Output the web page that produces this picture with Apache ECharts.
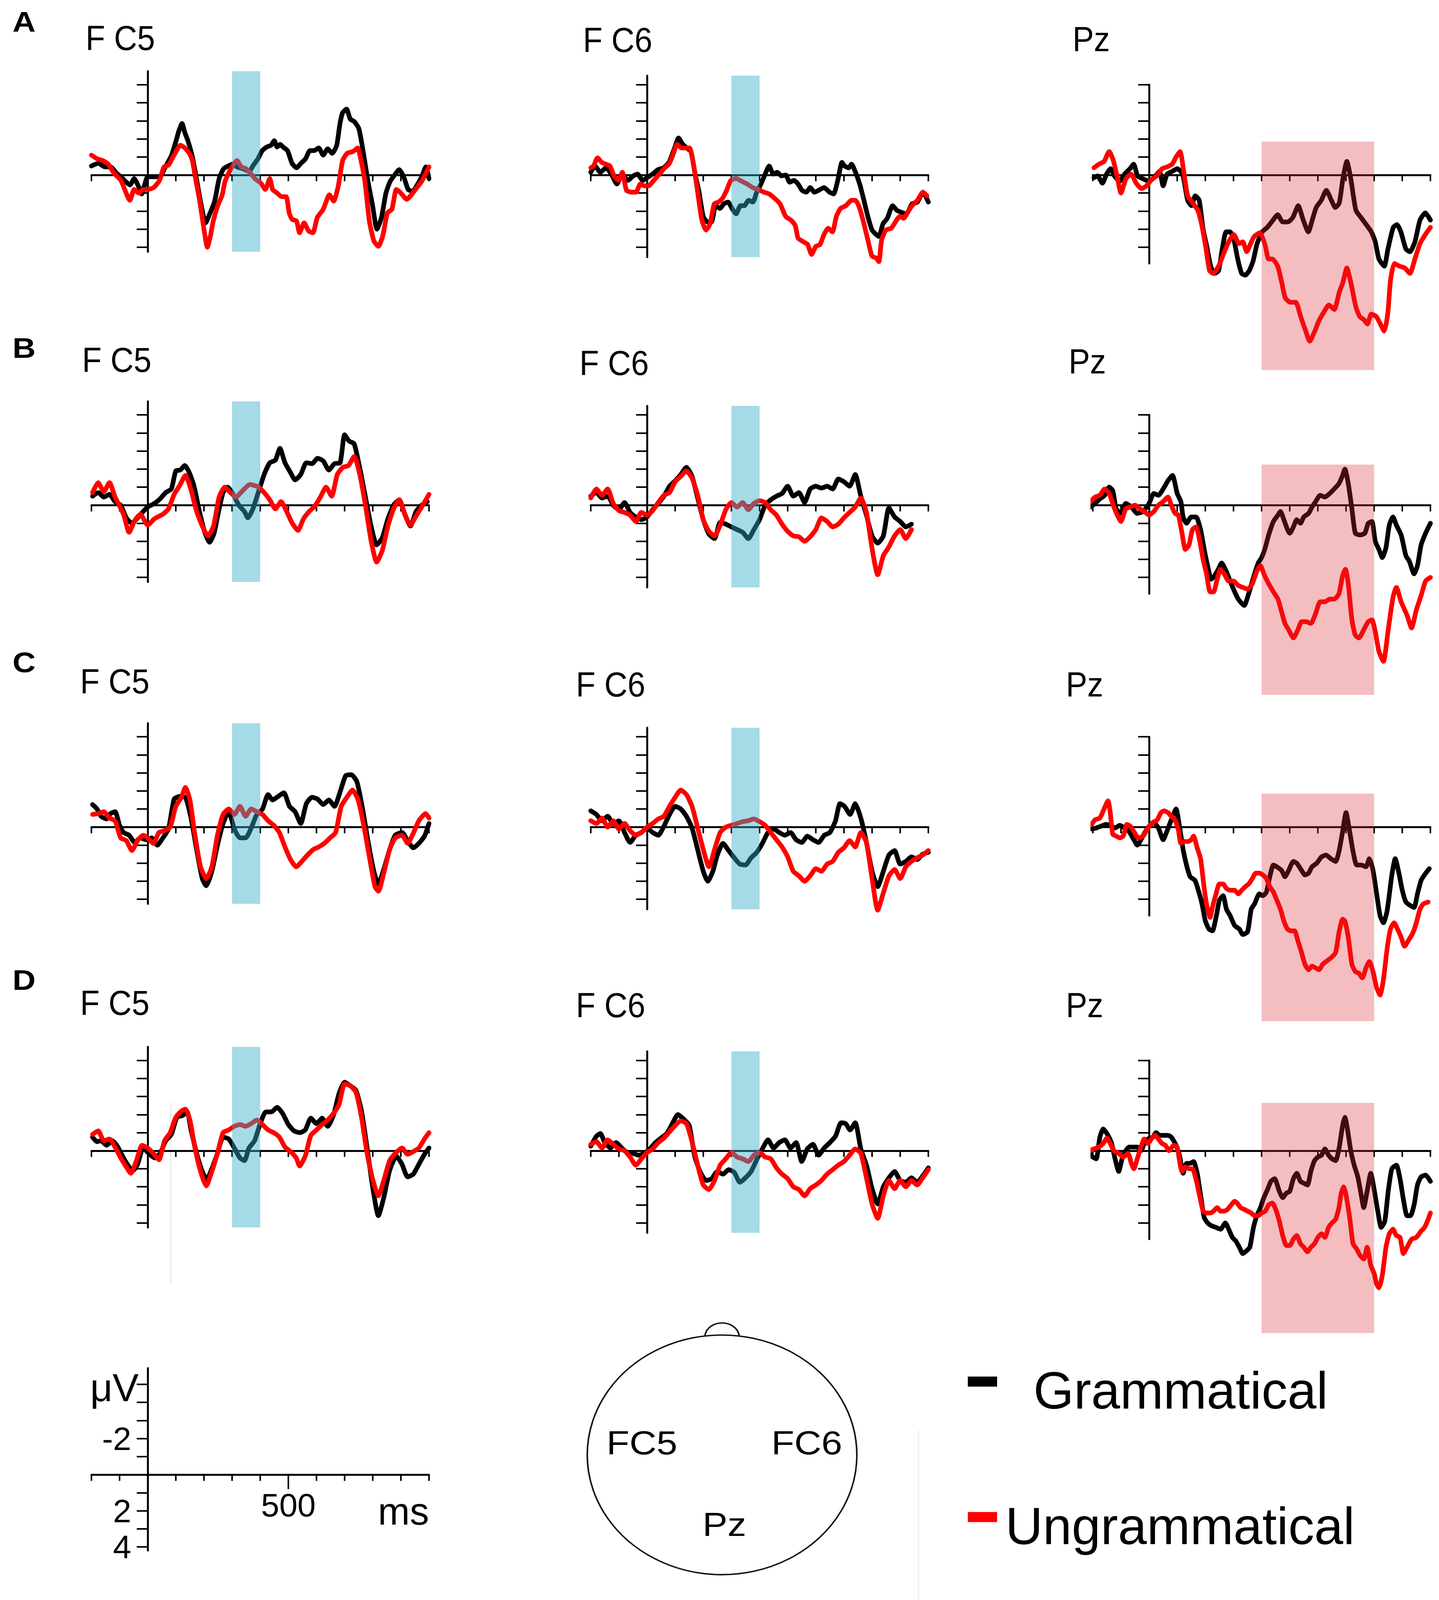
<!DOCTYPE html>
<html>
<head>
<meta charset="utf-8">
<script src="https://cdn.jsdelivr.net/npm/echarts@6/dist/echarts.min.js"></script>
<style>
html,body{margin:0;padding:0;background:#ffffff;overflow:hidden;}
#chart{width:3683px;height:4608px;}
</style>
</head>
<body>
<div id="chart"></div>
<script>
// ===================== DATA =====================
const rows = ['A', 'B', 'C', 'D'];
const electrodes = ['F C5', 'F C6', 'Pz'];
const headLabels = ['FC5', 'FC6', 'Pz'];
const conditions = ['Grammatical', 'Ungrammatical'];
const yTicks = [-5, -4, -3, -2, -1, 1, 2, 3, 4];
const scaleYLabelValues = [-5, -2, 2, 4];
const scaleXLabelValues = [500];
const blueWindow = [300, 400];
const pinkWindow = [400, 800];
const pinkRange = [[-1.85, 10.8], [-2.25, 10.5], [-1.85, 10.75], [-2.65, 10.1]];
const scaleTick500 = [[500, 0], [500, 0.8]];

// Row A
const A_FC5_gram = [[-200,-0.5],[-175,-0.65],[-153,-0.45],[-132,-0.45],[-111,-0.1],[-95,0.1],[-79,0.35],[-63,0.55],[-48,0.2],[-32,0.65],[-21,1.05],[-11,0.55],[0,0.1],[21,0.1],[42,0.1],[63,-0.45],[85,-1.1],[101,-1.9],[111,-2.45],[122,-2.85],[132,-2.35],[143,-1.9],[159,-1.0],[175,0.35],[190,1.65],[206,2.65],[222,2.1],[238,1.45],[254,0.2],[270,-0.35],[286,-0.5],[302,-0.6],[317,-0.45],[339,-0.35],[360,-0.2],[376,-0.55],[392,-0.9],[407,-1.35],[423,-1.55],[439,-1.65],[450,-1.9],[460,-1.55],[471,-1.7],[481,-1.55],[497,-1.35],[513,-0.65],[529,-0.4],[545,-0.65],[561,-0.9],[577,-1.35],[592,-1.35],[608,-1.5],[624,-1.1],[640,-1.45],[656,-1.2],[672,-1.65],[683,-2.8],[693,-3.45],[707,-3.65],[720,-3.1],[735,-2.95],[751,-2.55],[767,-1.2],[783,0.35],[799,1.65],[815,3.0],[831,2.35],[847,1.0],[862,0.35],[878,0],[894,-0.3],[910,0.1],[926,0.8],[942,0.9],[958,0.55],[974,0.1],[989,-0.45],[1000,0.2]];
const A_FC5_ungram = [[-200,-1.1],[-180,-0.9],[-160,-0.8],[-140,-0.6],[-120,-0.1],[-95,0.3],[-63,1.4],[-48,0.8],[-32,1.0],[-16,0.8],[0,0.8],[21,0.7],[42,0.3],[58,-0.45],[74,-0.55],[90,-1.0],[106,-1.45],[116,-1.65],[132,-1.5],[148,-1.2],[159,-0.8],[169,0.1],[185,1.45],[201,3.1],[212,4.0],[222,3.45],[233,2.55],[249,1.7],[265,1.1],[275,0.35],[296,-0.35],[317,-0.8],[333,-0.45],[349,-0.35],[365,-0.1],[381,0.2],[402,0.45],[418,0.8],[434,0.2],[444,0.8],[460,1.0],[476,1.2],[492,1.2],[503,2.1],[513,2.45],[529,2.55],[540,3.2],[556,2.65],[572,3.1],[587,3.2],[603,2.35],[624,1.9],[646,1.1],[661,1.45],[677,0.65],[693,-0.8],[709,-1.2],[730,-1.3],[746,-1.5],[757,-0.9],[772,0.35],[788,2.55],[804,3.65],[820,3.95],[836,3.35],[852,2.1],[868,1.9],[884,0.8],[900,1.0],[921,1.35],[937,1.1],[952,0.8],[974,0.35],[989,-0.1],[1000,-0.45]];
const A_FC6_gram = [[-200,-0.15],[-185,-0.5],[-166,-0.15],[-146,-0.4],[-127,-0.05],[-107,0.5],[-88,-0.05],[-68,0.3],[-49,0.05],[-34,-0.05],[-15,0.3],[0,0.15],[20,-0.05],[39,-0.3],[59,-0.4],[78,-0.7],[98,-1.5],[112,-2.05],[127,-1.7],[141,-1.5],[156,-1.3],[171,-0.05],[185,0.95],[200,2.3],[215,2.6],[229,2.6],[244,1.7],[259,1.85],[273,1.6],[288,1.5],[302,1.85],[317,2.15],[332,1.7],[346,1.7],[361,1.4],[376,1.5],[390,0.95],[405,0.5],[420,-0.05],[434,-0.5],[449,-0.05],[463,-0.15],[478,0.05],[493,0],[507,0.4],[522,0.3],[537,0.5],[551,0.85],[566,0.95],[580,0.7],[595,0.95],[610,0.85],[629,0.7],[649,0.95],[663,1.05],[678,0.3],[693,-0.7],[702,-0.5],[717,-0.4],[727,-0.6],[741,-0.15],[756,0.5],[771,1.4],[785,2.3],[800,3.05],[815,3.3],[824,3.4],[839,2.7],[854,2.4],[873,1.7],[888,1.95],[902,2.05],[922,2.15],[942,1.6],[961,1.5],[981,0.95],[1000,1.5]];
const A_FC6_ungram = [[-200,-0.4],[-190,-0.5],[-176,-0.95],[-161,-0.7],[-146,-0.6],[-132,-0.5],[-117,0.05],[-102,0.3],[-88,-0.15],[-73,0.85],[-54,0.95],[-39,0.95],[-24,0.5],[-10,0.6],[5,0.6],[24,0.3],[44,-0.05],[63,-0.4],[78,-0.6],[93,-1.15],[107,-1.7],[122,-1.5],[137,-1.5],[151,-1.5],[166,-0.5],[180,0.95],[195,2.5],[210,3.05],[224,2.7],[239,1.6],[254,1.5],[268,1.3],[283,0.85],[298,0.3],[317,0.2],[337,0.35],[356,0.5],[376,0.7],[395,0.8],[415,0.95],[434,1.05],[454,1.3],[473,1.6],[493,2.3],[512,2.5],[527,2.8],[537,3.5],[556,3.7],[571,3.85],[585,4.4],[600,3.95],[615,3.85],[629,3.3],[644,2.95],[659,3.15],[673,2.3],[688,1.85],[707,1.7],[727,1.4],[741,1.4],[756,1.85],[771,2.7],[785,3.6],[800,4.5],[815,4.6],[824,4.8],[834,3.6],[849,3.05],[868,2.95],[883,2.6],[898,2.3],[912,2.4],[927,2.05],[942,1.7],[961,1.4],[981,0.95],[995,1.15]];
const A_Pz_gram = [[-196,0.15],[-183,0.05],[-166,0.45],[-151,-0.05],[-137,-0.35],[-123,0.05],[-105,0.35],[-87,-0.05],[-68,-0.35],[-55,-0.6],[-41,0.05],[-23,0.2],[0,0.35],[23,0.05],[37,-0.2],[50,0.6],[64,-0.05],[82,-0.2],[100,-0.35],[119,-0.05],[137,1.4],[151,1.7],[164,1.15],[178,1.4],[192,3.0],[205,3.95],[219,5.05],[233,5.45],[247,5.3],[260,4.1],[274,3.15],[288,3.15],[301,3.55],[315,4.65],[329,5.45],[342,5.55],[356,5.3],[370,4.75],[384,3.8],[402,3.15],[420,2.9],[438,2.55],[457,2.2],[475,2.6],[493,2.6],[511,2.35],[530,1.7],[548,2.5],[566,3.15],[580,2.5],[594,1.8],[612,1.4],[630,0.85],[648,1.4],[662,1.8],[676,1.55],[689,0.2],[703,-0.75],[717,0.2],[735,1.95],[753,2.35],[772,2.75],[790,3.15],[804,3.7],[817,4.65],[836,5.05],[849,4.1],[868,2.9],[881,2.75],[895,3.15],[913,4.1],[927,4.25],[945,3.7],[963,2.5],[982,2.1],[1000,2.5]];
const A_Pz_ungram = [[-196,-0.4],[-178,-0.6],[-160,-0.75],[-142,-1.3],[-128,-0.85],[-114,0.05],[-100,1.0],[-82,0.2],[-64,-0.05],[-46,0.45],[-27,0.75],[-9,0.6],[9,0.25],[27,0.05],[46,-0.35],[64,-0.45],[82,-0.6],[96,-1.0],[110,-1.3],[123,-0.2],[137,1.15],[155,1.55],[173,1.95],[187,2.75],[201,3.95],[215,5.3],[228,5.45],[247,5.05],[265,4.35],[283,3.7],[301,3.3],[320,3.8],[333,3.7],[347,4.25],[361,3.8],[374,3.4],[393,3.2],[411,3.8],[425,4.65],[438,4.65],[457,5.05],[470,5.85],[484,6.8],[502,7.05],[521,7.05],[539,7.85],[557,8.65],[571,9.2],[589,8.65],[603,8.1],[621,7.6],[639,7.2],[658,7.45],[676,6.5],[689,5.95],[703,5.15],[717,5.95],[735,7.3],[749,7.85],[763,8.0],[776,8.25],[790,7.7],[808,7.85],[822,8.25],[836,8.65],[849,7.6],[858,5.85],[872,4.9],[890,5.05],[909,5.15],[927,5.45],[945,4.65],[963,3.8],[982,3.3],[1000,2.9]];

// Row B
const B_FC5_gram = [[-196,-0.5],[-176,-0.7],[-156,-0.45],[-136,-0.6],[-116,-0.2],[-96,0],[-76,0.7],[-56,1.0],[-36,0.7],[-16,0.35],[0,0.1],[24,-0.1],[44,-0.35],[64,-0.7],[84,-0.9],[100,-1.9],[116,-1.95],[132,-2.2],[148,-1.8],[164,-1.1],[184,0.35],[204,1.55],[220,2.05],[236,1.55],[252,0.35],[268,-0.7],[284,-1.0],[304,-0.6],[324,0],[344,0.35],[356,0.7],[374,0.2],[394,-0.75],[414,-1.7],[434,-2.35],[454,-2.5],[470,-3.15],[488,-2.35],[508,-1.8],[524,-1.4],[544,-1.7],[564,-2.35],[584,-2.3],[604,-2.6],[624,-2.45],[644,-1.95],[664,-2.3],[684,-2.35],[700,-3.9],[716,-3.55],[734,-3.4],[754,-2.05],[774,-0.45],[794,1.15],[814,2.2],[834,1.8],[854,0.75],[874,0],[894,-0.3],[914,0.5],[934,1.15],[954,0.35],[974,0],[994,-0.2]];
const B_FC5_ungram = [[-196,-0.7],[-176,-1.25],[-156,-0.75],[-136,-1.25],[-116,-0.45],[-86,0.5],[-66,1.5],[-46,0.85],[-26,0.5],[0,1.1],[24,0.75],[54,0.5],[74,0.2],[94,-0.6],[114,-1.1],[134,-1.65],[154,-0.85],[174,0.35],[194,1.15],[214,1.7],[234,1.15],[254,-0.45],[274,-1.0],[294,-0.7],[314,-0.45],[334,-0.75],[364,-1.15],[394,-1.0],[414,-0.7],[434,-0.3],[454,0.2],[474,-0.2],[494,0.35],[514,1.0],[534,1.4],[554,0.75],[574,0.35],[594,0.05],[614,-0.45],[634,-1.0],[654,-0.5],[674,-1.7],[694,-2.1],[714,-2.2],[734,-2.7],[754,-1.7],[774,0],[794,1.95],[814,3.15],[834,2.5],[854,1.15],[874,0.2],[894,-0.3],[914,0.5],[934,1.1],[954,0.6],[974,0.1],[1000,-0.6]];
const B_FC6_gram = [[-200,-0.5],[-180,-0.7],[-160,-0.4],[-140,-0.5],[-120,0],[-100,0.25],[-80,-0.15],[-60,0.4],[-40,0.65],[-20,0.8],[0,0.65],[20,0.25],[40,-0.1],[60,-0.5],[80,-1.05],[100,-1.35],[120,-1.7],[140,-2.1],[160,-1.6],[180,-0.4],[200,0.8],[220,1.6],[240,1.85],[260,0.95],[280,1.05],[300,1.2],[320,1.35],[340,1.5],[360,1.85],[380,1.35],[400,0.8],[420,0],[440,-0.3],[460,-0.5],[480,-0.65],[500,-1.05],[520,-0.5],[540,-0.7],[560,-0.15],[580,-0.9],[600,-1.05],[620,-0.95],[640,-1.05],[660,-0.9],[680,-1.45],[700,-1.3],[720,-1.05],[740,-1.7],[760,-0.5],[780,0.55],[800,1.7],[820,2.1],[840,1.7],[860,0.15],[880,0.65],[900,0.9],[920,1.2],[940,1.05]];
const B_FC6_ungram = [[-200,-0.4],[-180,-0.9],[-160,-0.55],[-140,-0.9],[-120,-0.1],[-100,0.3],[-80,0.4],[-60,0.55],[-40,0.9],[-20,0.4],[0,0.55],[20,0.3],[40,-0.15],[60,-0.55],[80,-0.7],[100,-1.3],[120,-1.6],[140,-1.9],[160,-1.5],[180,-0.55],[200,0.8],[220,1.45],[240,1.7],[260,1.1],[280,0.25],[300,-0.15],[320,0.1],[340,-0.15],[360,0.25],[380,-0.1],[400,-0.25],[420,-0.15],[440,0.25],[460,0.55],[480,1.05],[500,1.45],[520,1.7],[540,1.75],[560,2.0],[580,1.75],[600,1.35],[620,0.7],[640,0.9],[660,1.2],[680,1.05],[700,0.7],[720,0.4],[740,0.1],[760,-0.4],[780,0.4],[800,2.4],[820,3.85],[840,2.8],[860,2.3],[880,1.7],[900,1.35],[920,1.85],[940,1.35]];
const B_Pz_gram = [[-208,0.1],[-192,-0.1],[-175,-0.35],[-158,-0.55],[-142,-1.0],[-129,-0.8],[-117,0.2],[-100,0.45],[-83,-0.1],[-63,0.1],[-42,0.45],[-21,0.35],[0,-0.1],[17,-0.65],[33,-0.55],[50,-0.9],[67,-1.35],[83,-1.65],[100,-0.65],[113,-0.2],[121,0.65],[133,1.0],[150,0.65],[167,0.65],[183,1.35],[196,2.45],[208,3.35],[221,4.1],[233,3.9],[246,3.55],[258,3.2],[271,3.55],[283,4.0],[300,4.65],[317,5.2],[338,5.55],[354,4.9],[371,4.0],[388,3.2],[400,2.9],[413,2.35],[425,1.65],[442,0.9],[458,0.55],[467,0.35],[479,0.8],[492,1.35],[500,1.55],[513,1.2],[525,0.8],[538,1.0],[550,0.65],[567,0.45],[579,0.1],[592,-0.2],[608,-0.55],[625,-0.45],[642,-0.65],[658,-0.9],[675,-1.2],[688,-1.65],[696,-2.0],[708,-1.2],[721,0.2],[733,1.55],[750,1.65],[767,1.55],[779,1.0],[792,0.9],[804,2.0],[817,2.45],[829,2.9],[842,2.35],[854,1.1],[867,0.65],[879,1.1],[896,1.65],[913,2.8],[925,3.1],[942,3.8],[954,3.35],[967,2.2],[983,1.55],[1000,1.0]];
const B_Pz_ungram = [[-208,-0.2],[-192,-0.45],[-175,-0.55],[-158,-0.9],[-142,-0.65],[-125,0.1],[-113,0.55],[-100,0.9],[-83,0.2],[-67,0.1],[-50,0],[-33,0.2],[-17,0.35],[0,0.55],[17,0.35],[33,0],[50,-0.2],[67,-0.45],[79,0],[92,0.45],[104,0.55],[117,1.55],[129,2.45],[142,2.2],[154,1.35],[167,1.2],[179,1.9],[192,3.0],[204,3.8],[217,4.8],[229,4.8],[242,4.1],[254,3.55],[267,3.8],[283,4.2],[300,4.2],[317,4.45],[333,4.55],[350,4.65],[367,4.35],[383,3.65],[396,3.35],[408,3.8],[425,4.35],[442,4.8],[458,5.2],[471,5.9],[483,6.55],[496,6.9],[513,7.35],[529,6.9],[542,6.45],[558,6.45],[575,6.55],[592,6.0],[608,5.35],[625,5.35],[642,5.2],[658,5.2],[675,4.9],[688,3.9],[698,3.55],[708,4.35],[721,6.35],[733,7.2],[746,7.35],[763,6.9],[779,6.45],[792,6.35],[804,7.0],[817,8.1],[833,8.65],[850,6.9],[867,5.1],[879,4.55],[896,5.35],[917,6.1],[933,6.8],[950,5.8],[967,5.0],[983,4.2],[1000,4.0]];

// Row C
const C_FC5_gram = [[-196,-1.25],[-180,-1.0],[-166,-0.6],[-146,-0.45],[-132,-0.75],[-116,-0.85],[-100,-0.1],[-86,0.3],[-66,0.45],[-46,0.85],[-26,0.6],[-6,0.7],[14,0.6],[34,1.0],[54,0.6],[74,0.1],[94,-1.55],[114,-1.7],[134,-1.65],[154,-0.5],[174,1.25],[194,2.85],[208,3.25],[228,2.45],[248,1.0],[268,-0.2],[288,-0.85],[308,0.1],[328,0.6],[348,0.6],[368,0.05],[388,-0.7],[408,-1.0],[428,-1.8],[444,-1.5],[464,-1.7],[484,-1.9],[504,-1.15],[524,-0.85],[544,-0.2],[564,-1.3],[584,-1.65],[604,-1.55],[624,-1.25],[644,-1.5],[664,-1.15],[684,-1.95],[704,-2.85],[724,-2.9],[744,-2.5],[764,-1.0],[784,0.85],[804,2.45],[820,3.15],[840,2.3],[860,1.25],[880,0.45],[904,0.3],[924,0.75],[944,1.15],[964,0.9],[984,0.5],[1000,-0.2]];
const C_FC5_ungram = [[-196,-0.7],[-176,-0.75],[-156,-0.85],[-136,-0.5],[-116,-0.35],[-96,0.6],[-76,0.75],[-56,1.3],[-36,0.75],[-16,0.45],[0,0.6],[20,0.9],[40,0.3],[60,0.2],[80,0],[100,-1.15],[120,-1.65],[134,-2.2],[150,-1.5],[168,0.45],[188,2.2],[208,2.85],[228,2.2],[248,0.45],[268,-0.7],[288,-1.0],[308,-0.7],[328,-1.15],[348,-0.6],[368,-1.0],[388,-0.85],[408,-0.7],[428,-0.35],[448,-0.1],[468,0.3],[488,1.1],[508,1.8],[528,2.2],[548,1.9],[568,1.55],[588,1.25],[608,1.1],[628,0.9],[648,0.6],[668,0.3],[688,-1.15],[708,-1.65],[728,-2.05],[748,-1.5],[768,-0.1],[788,1.65],[808,3.3],[820,3.55],[840,2.5],[860,1.25],[880,0.6],[904,0.45],[924,0.9],[944,0.35],[964,-0.35],[988,-0.75],[1000,-0.5]];
const C_FC6_gram = [[-200,-0.9],[-180,-0.7],[-160,-0.35],[-140,-0.6],[-120,-0.2],[-100,-0.35],[-80,0.3],[-60,0.85],[-40,0.45],[-20,0.3],[0,0.05],[20,0.3],[40,0.45],[60,-0.05],[80,-0.7],[100,-1.15],[120,-1.0],[140,-0.6],[160,0.05],[180,1.25],[200,2.45],[216,3.0],[234,2.45],[250,1.55],[270,0.9],[290,1.3],[310,1.7],[330,2.05],[350,2.1],[370,1.7],[390,1.4],[410,0.9],[430,0.3],[450,0.1],[470,0.3],[490,0.45],[510,0.3],[530,0.7],[550,0.85],[570,0.5],[590,0.7],[610,0.85],[630,0.45],[650,0.3],[670,-0.35],[686,-1.3],[702,-1.15],[722,-0.7],[740,-1.3],[760,-0.5],[780,0.85],[800,2.45],[820,3.3],[840,2.45],[860,1.55],[880,1.3],[900,2.05],[920,1.9],[940,1.65],[960,1.8],[980,1.5],[1000,1.4]];
const C_FC6_ungram = [[-200,-0.35],[-180,-0.2],[-160,-0.5],[-140,0],[-120,-0.35],[-100,0.1],[-80,-0.2],[-60,0.2],[-40,0.45],[-20,0.3],[0,0],[20,-0.2],[40,-0.45],[60,-0.6],[80,-1.15],[100,-1.65],[120,-2.05],[140,-1.8],[160,-1.15],[180,0.05],[200,1.25],[220,2.2],[240,1.25],[260,0.3],[280,0],[300,-0.1],[320,-0.2],[340,-0.3],[360,-0.35],[380,-0.45],[400,-0.3],[420,-0.1],[440,0.3],[460,0.7],[480,1.1],[500,1.65],[520,2.45],[540,2.7],[560,3.0],[580,2.7],[600,2.3],[620,2.45],[640,2.05],[660,1.9],[680,1.4],[700,1.15],[720,0.75],[740,1.1],[760,0.3],[780,0.85],[800,2.85],[820,4.6],[840,3.65],[860,2.7],[880,2.35],[900,2.85],[920,2.2],[940,1.9],[960,1.7],[980,1.55],[1000,1.3]];
const C_Pz_gram = [[-204,0.1],[-188,0.05],[-171,-0.05],[-154,-0.15],[-138,-0.1],[-121,0.05],[-104,-0.1],[-88,0.05],[-71,0.25],[-54,0.7],[-42,1.0],[-29,0.7],[-13,0.25],[0,-0.05],[17,-0.25],[33,0.05],[50,0.7],[63,0.25],[79,-0.4],[96,-1.0],[108,-0.05],[121,1.25],[133,2.1],[146,2.75],[163,2.95],[175,3.5],[188,4.25],[200,5.2],[213,5.65],[225,5.75],[238,5.0],[250,4.05],[263,3.8],[275,4.55],[288,4.9],[304,5.45],[321,5.65],[333,5.95],[350,5.8],[363,4.55],[375,4.25],[392,3.7],[404,3.8],[417,3.6],[429,2.75],[442,2.1],[454,2.2],[471,2.4],[483,2.75],[496,2.4],[513,1.9],[525,2.0],[542,2.4],[554,2.65],[567,2.55],[579,2.2],[596,2.0],[613,1.65],[629,1.55],[646,1.75],[663,1.9],[675,1.35],[688,0.25],[700,-0.8],[713,0.25],[725,1.35],[738,2.1],[754,2.1],[771,2.2],[783,1.75],[796,2.4],[808,3.6],[821,4.9],[833,5.3],[846,4.65],[863,2.65],[875,1.75],[888,2.55],[900,3.5],[913,4.15],[929,4.35],[942,4.45],[954,3.7],[967,2.95],[979,2.65],[996,2.3]];
const C_Pz_ungram = [[-204,-0.15],[-192,-0.4],[-175,-0.5],[-163,-0.9],[-146,-1.45],[-138,-0.8],[-129,0.4],[-117,0.5],[-104,0.6],[-92,0.5],[-79,-0.15],[-67,-0.05],[-54,0.25],[-38,0.6],[-21,0.5],[-4,0.05],[13,-0.25],[29,-0.4],[42,-0.8],[54,-0.9],[67,-0.8],[79,-0.6],[92,-0.4],[104,0.15],[113,0.9],[125,0.8],[138,0.8],[150,0.7],[158,0.5],[171,1.15],[183,1.75],[196,3.4],[204,4.25],[217,5.0],[225,4.45],[238,3.7],[250,3.15],[263,3.15],[275,3.4],[288,3.5],[304,3.5],[317,3.7],[329,3.5],[342,3.3],[354,3.15],[367,2.85],[379,2.55],[392,2.55],[404,2.65],[417,2.85],[429,3.3],[442,3.6],[454,4.05],[467,4.55],[479,5.2],[492,5.65],[504,5.75],[517,5.75],[529,6.3],[542,6.95],[554,7.6],[567,7.9],[579,7.7],[592,7.8],[604,7.9],[617,7.6],[629,7.45],[646,7.25],[663,6.95],[675,5.85],[688,5.1],[696,5.2],[708,6.1],[721,7.6],[733,8.0],[746,8.1],[758,8.35],[771,7.8],[783,7.45],[796,8.0],[808,8.85],[821,9.3],[833,8.45],[846,6.75],[858,5.65],[871,5.3],[883,5.65],[896,6.1],[908,6.6],[921,6.3],[938,5.85],[950,5.3],[963,4.55],[975,4.25],[992,4.15]];

// Row D
const D_FC5_gram = [[-196,-0.75],[-180,-0.5],[-166,-0.55],[-146,-0.3],[-126,-0.55],[-106,-0.2],[-86,0.4],[-66,0.9],[-52,1.1],[-36,0.75],[-16,-0.15],[4,0.15],[24,0.4],[44,0.15],[64,-0.55],[84,-0.9],[104,-1.85],[124,-1.95],[140,-2.15],[154,-1.15],[174,0.15],[194,1.15],[210,1.6],[228,1.0],[248,0.15],[268,-0.75],[288,-0.65],[308,-0.15],[328,0.4],[344,0.55],[360,-0.15],[380,-0.55],[400,-1.5],[420,-2.15],[440,-2.15],[460,-2.4],[480,-2.05],[500,-1.45],[520,-1.1],[540,-1.0],[560,-1.15],[580,-1.8],[600,-1.5],[620,-1.8],[640,-1.35],[660,-1.95],[680,-3.15],[700,-3.8],[720,-3.6],[740,-3.35],[760,-2.2],[780,-0.15],[800,2.05],[820,3.6],[840,2.55],[860,1.1],[884,0.3],[904,0.75],[924,1.45],[944,1.3],[964,0.75],[984,0.2],[1000,-0.15]];
const D_FC5_ungram = [[-196,-0.9],[-176,-1.1],[-156,-0.55],[-136,-0.65],[-116,-0.2],[-96,0.4],[-76,0.9],[-60,1.25],[-40,0.55],[-20,-0.3],[0,-0.15],[20,0.15],[40,0.5],[60,-0.55],[80,-1.0],[100,-1.85],[120,-2.2],[134,-2.3],[150,-1.7],[168,-0.15],[188,1.15],[208,1.95],[228,1.15],[248,0.15],[268,-1.0],[288,-1.15],[308,-1.35],[328,-1.45],[348,-1.35],[368,-1.5],[388,-1.7],[408,-1.45],[428,-1.15],[448,-1.0],[468,-0.75],[488,-0.2],[508,0.05],[528,0.4],[540,0.85],[560,0.3],[580,-0.85],[600,-1.15],[620,-1.45],[640,-1.7],[660,-2.05],[680,-2.55],[700,-3.7],[720,-3.6],[740,-3.25],[760,-1.85],[780,0.15],[800,1.6],[820,2.5],[840,1.6],[860,0.55],[880,0.15],[904,-0.15],[924,0.2],[944,0.05],[964,-0.15],[984,-0.65],[1000,-1.0]];
const D_FC6_gram = [[-200,-0.25],[-180,-0.8],[-166,-0.95],[-150,-0.45],[-130,-0.15],[-110,-0.45],[-90,-0.15],[-70,0.1],[-50,0.15],[-30,0.25],[-10,0.15],[10,-0.1],[30,-0.45],[50,-0.7],[70,-0.95],[90,-1.5],[110,-2.0],[130,-1.75],[150,-1.4],[170,0.35],[190,1.2],[210,1.65],[230,1.55],[250,1.15],[270,1.3],[290,1.05],[310,1.2],[330,1.75],[350,1.5],[370,1.15],[390,0.5],[410,-0.1],[430,-0.6],[450,-0.15],[470,-0.45],[490,-0.6],[510,-0.15],[530,-0.45],[550,0.6],[570,-0.1],[590,-0.35],[610,0.25],[630,-0.15],[650,-0.45],[670,-0.8],[690,-1.55],[706,-1.5],[722,-1.15],[740,-1.55],[760,-0.1],[780,0.8],[800,2.1],[820,2.95],[840,2.0],[860,1.5],[880,1.15],[900,1.65],[920,1.75],[940,1.5],[960,1.75],[980,1.4],[1000,0.95]];
const D_FC6_ungram = [[-200,-0.35],[-180,-0.5],[-160,-0.15],[-140,-0.6],[-120,-0.35],[-100,-0.1],[-80,0],[-60,0.35],[-40,0.8],[-20,0.45],[0,0.1],[20,-0.1],[40,-0.45],[60,-0.7],[80,-1.05],[100,-1.4],[120,-1.65],[140,-1.5],[160,-0.5],[180,0.8],[200,1.9],[220,2.15],[240,1.65],[260,0.8],[280,0.45],[300,0.1],[320,0.35],[340,0.45],[360,0.6],[380,0.25],[400,0.1],[420,0.35],[440,0.45],[460,0.95],[480,1.3],[500,1.55],[520,2.0],[540,2.15],[560,2.5],[580,2.1],[600,1.9],[620,1.65],[640,1.3],[660,1.05],[680,0.8],[700,0.6],[720,0.25],[740,-0.1],[760,0.15],[780,1.5],[800,2.95],[820,3.75],[840,2.5],[860,1.65],[880,2.1],[900,1.65],[920,2.0],[940,1.65],[960,1.9],[980,1.5],[1000,1.05]];
const D_Pz_gram = [[-212,0.15],[-200,0.35],[-188,0.45],[-175,-0.75],[-163,-1.2],[-146,-0.85],[-133,-0.4],[-121,0.45],[-108,1.15],[-96,0.45],[-83,0],[-71,-0.2],[-54,-0.2],[-42,-0.2],[-29,0],[-17,-0.4],[-4,-0.65],[13,-0.75],[25,-1.0],[38,-0.85],[54,-0.85],[67,-0.85],[79,-0.75],[96,-0.3],[108,0.25],[121,1.25],[133,0.7],[146,0.7],[158,0.6],[171,1.25],[183,2.45],[196,3.7],[208,4.0],[221,4.15],[238,4.25],[254,4.35],[271,4.0],[283,4.35],[296,4.8],[308,5.0],[321,5.35],[333,5.7],[346,5.55],[358,5.35],[371,4.25],[383,3.6],[396,3.15],[408,2.6],[421,2.15],[433,1.7],[446,1.55],[463,2.25],[475,2.6],[488,2.35],[500,2.25],[513,1.55],[525,1.25],[538,1.7],[550,1.8],[563,1.9],[575,1.15],[588,0.55],[600,0.35],[613,0.25],[625,-0.1],[638,0.25],[650,0.45],[663,0.55],[675,-0.1],[688,-1.4],[696,-1.85],[704,-1.3],[717,0],[729,0.8],[742,1.45],[754,2.45],[763,3.15],[775,2.25],[788,1.25],[800,2.15],[813,3.35],[825,4.25],[838,3.9],[850,2.25],[863,1.0],[879,0.8],[892,1.55],[904,2.7],[917,3.6],[929,3.6],[942,3.0],[954,1.9],[967,1.45],[983,1.35],[1000,1.7]];
const D_Pz_ungram = [[-212,0],[-196,-0.1],[-179,-0.2],[-163,-0.4],[-150,-0.7],[-138,-0.4],[-125,0],[-108,0.15],[-92,0.35],[-75,0.15],[-63,0.7],[-54,1.0],[-42,0.45],[-29,-0.2],[-17,-0.65],[-4,-0.4],[8,-0.65],[21,-0.85],[33,-0.65],[46,-0.4],[58,-0.3],[71,0],[88,-0.3],[100,-0.2],[108,0.55],[117,1.15],[129,0.9],[142,1.0],[154,1.0],[167,1.6],[179,2.45],[192,3.35],[204,3.45],[217,3.45],[229,3.35],[242,3.15],[254,3.35],[267,3.35],[279,3.25],[292,3.0],[304,2.8],[313,2.9],[325,3.15],[338,3.25],[350,3.35],[363,3.45],[375,3.6],[388,3.6],[400,3.45],[413,3.35],[425,3.0],[438,2.9],[450,3.25],[463,3.9],[475,4.7],[488,5.25],[500,5.25],[513,4.9],[525,4.7],[538,5.15],[550,5.35],[563,5.6],[575,5.35],[588,5.15],[600,4.8],[613,4.6],[625,4.8],[638,4.25],[650,4.0],[663,3.8],[675,3.15],[683,2.35],[692,2.0],[700,2.45],[713,3.7],[725,5.15],[738,5.45],[750,5.8],[763,6.0],[775,5.35],[788,6.35],[800,6.8],[808,7.35],[817,7.6],[829,6.9],[842,5.35],[854,4.6],[867,4.35],[879,4.7],[892,4.8],[904,5.7],[917,5.35],[933,4.9],[950,4.8],[967,4.45],[979,4.25],[992,3.8],[1000,3.45]];

const panelData = [
  [[A_FC5_gram, A_FC5_ungram], [A_FC6_gram, A_FC6_ungram], [A_Pz_gram, A_Pz_ungram]],
  [[B_FC5_gram, B_FC5_ungram], [B_FC6_gram, B_FC6_ungram], [B_Pz_gram, B_Pz_ungram]],
  [[C_FC5_gram, C_FC5_ungram], [C_FC6_gram, C_FC6_ungram], [C_Pz_gram, C_Pz_ungram]],
  [[D_FC5_gram, D_FC5_ungram], [D_FC6_gram, D_FC6_ungram], [D_Pz_gram, D_Pz_ungram]]
];

// ===================== LAYOUT & STYLE =====================
// Layout is designed on a 3683 x 4608 canvas; the visible viewport may be shorter,
// so every vertical measure is mapped through Y() to fit the real viewport height.
const DESIGN_W = 3683, DESIGN_H = 4608;
const VIEW_H = Math.min(DESIGN_H, window.innerHeight || DESIGN_H);
const K = VIEW_H / DESIGN_H;
const Y = v => v * K;

const FONT = "'Liberation Sans', Arial, sans-serif";
const PX_PER_MS = 0.72;
const PX_PER_UV = 52;
const X_MIN = -200, X_MAX = 1000;
const rowZeroY = [504, 1455, 2382, 3314];
const colZeroX = [378, 1656, 2941];
const colRange = [[-5.75, 4.25], [-5.5, 4.55], [-5.0, 4.9]];
const scaleZero = [378, 4247];
const scaleRange = [-5.9, 4.2];
const titleX = [[219, 1492, 2745], [210, 1483, 2735], [205, 1474, 2728], [205, 1474, 2728]];
const titleY = [[110, 115, 113], [1036, 1045, 1041], [1962, 1971, 1971], [2888, 2895, 2895]];
const letterY = [63, 1002, 1908, 2822];
const COLORS = ['#000000', '#ff0000'];
const BLUE = 'rgba(50,170,200,0.44)';
const PINK = 'rgba(218,38,45,0.30)';
const AXIS_W = 5;
const CURVE_W = 12;

const grids = [], xAxes = [], yAxes = [], series = [];

function addGrid(zx, zy, range) {
  const idx = grids.length;
  grids.push({
    left: zx + X_MIN * PX_PER_MS,
    top: Y(zy + range[0] * PX_PER_UV),
    width: (X_MAX - X_MIN) * PX_PER_MS,
    height: Y((range[1] - range[0]) * PX_PER_UV)
  });
  return idx;
}

function baseX(idx) {
  return {
    gridIndex: idx, type: 'value', min: X_MIN, max: X_MAX, interval: 100,
    axisLine: { show: true, onZero: true, lineStyle: { color: '#000', width: AXIS_W } },
    axisTick: { show: true, length: Y(18), lineStyle: { color: '#000', width: 4 } },
    axisLabel: { show: false }, splitLine: { show: false }
  };
}
function baseY(idx, range) {
  return {
    gridIndex: idx, type: 'value', inverse: true, min: range[0], max: range[1],
    minInterval: 1, maxInterval: 1,
    axisLine: { show: true, onZero: true, lineStyle: { color: '#000', width: AXIS_W } },
    axisTick: { show: true, length: 28, customValues: yTicks, lineStyle: { color: '#000', width: 4 } },
    axisLabel: { show: false }, splitLine: { show: false }
  };
}

rows.forEach((rowName, r) => {
  electrodes.forEach((el, c) => {
    const range = colRange[c];
    const gi = addGrid(colZeroX[c], rowZeroY[r], range);
    xAxes.push(baseX(gi));
    yAxes.push(baseY(gi, range));
    panelData[r][c].forEach((curve, k) => {
      series.push({
        name: conditions[k], type: 'line', xAxisIndex: gi, yAxisIndex: gi,
        data: curve, showSymbol: false, symbol: 'none', smooth: 0.2, clip: false,
        z: 2 + k, silent: true,
        itemStyle: { color: COLORS[k] },
        lineStyle: { color: COLORS[k], width: CURVE_W, join: 'round', cap: 'round' }
      });
    });
    if (c < 2) {
      series.push({
        type: 'custom', xAxisIndex: gi, yAxisIndex: gi, z: 10, silent: true, clip: false,
        data: [blueWindow],
        renderItem: (params, api) => {
          const cs = params.coordSys;
          const x0 = api.coord([api.value(0), 0])[0];
          const x1 = api.coord([api.value(1), 0])[0];
          return { type: 'rect', shape: { x: x0, y: cs.y, width: x1 - x0, height: cs.height }, style: { fill: BLUE } };
        }
      });
    } else {
      series.push({
        type: 'custom', xAxisIndex: gi, yAxisIndex: gi, z: 10, silent: true, clip: false,
        data: [[pinkWindow[0], pinkWindow[1], pinkRange[r][0], pinkRange[r][1]]],
        encode: { x: [0, 1], y: [2, 3] },
        renderItem: (params, api) => {
          const p0 = api.coord([api.value(0), api.value(2)]);
          const p1 = api.coord([api.value(1), api.value(3)]);
          return { type: 'rect', shape: { x: p0[0], y: Math.min(p0[1], p1[1]), width: p1[0] - p0[0], height: Math.abs(p1[1] - p0[1]) }, style: { fill: PINK } };
        }
      });
    }
  });
});

// Scale panel (bottom left). Its labels are anchored to the grid edges, so the
// margins are measured from there to put them beside the zero-crossing axes.
const sgi = addGrid(scaleZero[0], scaleZero[1], scaleRange);
const sGrid = grids[sgi];
const sx = baseX(sgi);
const xLabelTop = Y(scaleZero[1] + 40);
sx.axisLabel = { show: true, customValues: scaleXLabelValues, margin: xLabelTop - (sGrid.top + sGrid.height), color: '#000', fontSize: 84, fontFamily: FONT };
sx.name = 'ms';
sx.nameLocation = 'end';
sx.nameGap = 0;
sx.nameTextStyle = { color: '#000', fontSize: 98, fontFamily: FONT, align: 'right', verticalAlign: 'top', padding: [Y(50), 0, 0, 0] };
xAxes.push(sx);
const sy = baseY(sgi, scaleRange);
const yLabelRight = 355;
sy.axisLabel = {
  show: true, customValues: scaleYLabelValues, margin: sGrid.left - yLabelRight, color: '#000', fontSize: 84, fontFamily: FONT,
  formatter: v => (v === -5 ? '{u|μV}' : '{d|' + v + '}'),
  rich: {
    u: { fontSize: 100, fontFamily: FONT, color: '#000', padding: [Y(18), 0, 0, 0] },
    d: { fontSize: 84, fontFamily: FONT, color: '#000', padding: [0, 19, 0, 0] }
  }
};
yAxes.push(sy);
series.push({
  type: 'line', xAxisIndex: sgi, yAxisIndex: sgi, data: scaleTick500, showSymbol: false, symbol: 'none',
  silent: true, clip: false, lineStyle: { color: '#000', width: 4 }, itemStyle: { color: '#000' }
});

// ===================== TEXT / HEAD GRAPHICS =====================
const graphics = [];
function txt(text, x, y, size, opts) {
  opts = opts || {};
  return {
    type: 'text', x: x, y: Y(y), scaleX: opts.scaleX || 1, scaleY: K, silent: true,
    style: {
      text: text, fill: '#000', textFill: '#000',
      font: (opts.bold ? 'bold ' : '') + size + 'px ' + FONT,
      align: opts.align || 'left', textAlign: opts.align || 'left',
      verticalAlign: 'middle', textVerticalAlign: 'middle'
    }
  };
}
rows.forEach((rowName, r) => {
  graphics.push(txt(rowName, 32, letterY[r], 82, { bold: true }));
  electrodes.forEach((el, c) => {
    graphics.push(txt(el, titleX[r][c], titleY[r][c], 100, { scaleX: 0.82 }));
  });
});
// head outline (circle in design space; squeezed with the vertical mapping)
const HEAD = { cx: 1848, cy: 4190, r: 345 };
graphics.push({ type: 'circle', silent: true, x: HEAD.cx, y: Y(HEAD.cy), scaleY: K, shape: { cx: 0, cy: 0, r: HEAD.r }, style: { fill: 'none', stroke: '#111', lineWidth: 4 } });
graphics.push({ type: 'bezierCurve', silent: true, x: HEAD.cx, y: Y(HEAD.cy), scaleY: K, shape: { x1: -44, y1: -343, cpx1: -36, cpy1: -392, cpx2: 36, cpy2: -392, x2: 44, y2: -343 }, style: { fill: 'none', stroke: '#111', lineWidth: 4 } });
graphics.push(txt(headLabels[0], 1643, 4155, 96, { align: 'center' }));
graphics.push(txt(headLabels[1], 2065, 4155, 96, { align: 'center' }));
graphics.push(txt(headLabels[2], 1854, 4390, 96, { align: 'center' }));
// faint scan artefact lines
graphics.push({ type: 'line', silent: true, shape: { x1: 437, y1: Y(3175), x2: 437, y2: Y(3695) }, style: { stroke: '#e8e8e8', lineWidth: 3 } });
graphics.push({ type: 'line', silent: true, shape: { x1: 2351, y1: Y(4120), x2: 2351, y2: Y(4608) }, style: { stroke: '#ececec', lineWidth: 3 } });

// ===================== LEGEND =====================
const LEG_FONT = 133;
const LEG_CORR = 51; // measured offset between requested and rendered icon centre
function legendFor(k, iconCenterY, textOffsetY, textPadLeft) {
  const padTop = 2 * Y(textOffsetY);
  return {
    orient: 'vertical', left: 2477, padding: 0, icon: 'rect', itemWidth: 75, itemHeight: Y(29),
    selectedMode: false,
    top: Y(iconCenterY + LEG_CORR) - (LEG_FONT + padTop) / 2,
    data: [{ name: conditions[k], itemStyle: { color: COLORS[k], borderWidth: 0 } }],
    formatter: '{t|{name}}',
    textStyle: {
      color: '#000', fontSize: LEG_FONT, fontFamily: FONT,
      rich: { t: { color: '#000', fontSize: LEG_FONT, fontFamily: FONT, padding: [padTop, 0, 0, textPadLeft] } }
    }
  };
}
const legends = [legendFor(0, 3980, 26, 88), legendFor(1, 4370, 26, 16)];

const dom = document.getElementById('chart');
dom.style.height = VIEW_H + 'px';
const chart = echarts.init(dom, null, { renderer: 'svg', width: DESIGN_W, height: VIEW_H });
chart.setOption({
  backgroundColor: '#ffffff',
  animation: false,
  grid: grids,
  xAxis: xAxes,
  yAxis: yAxes,
  legend: legends,
  series: series,
  graphic: { elements: graphics }
});
</script>
</body>
</html>
